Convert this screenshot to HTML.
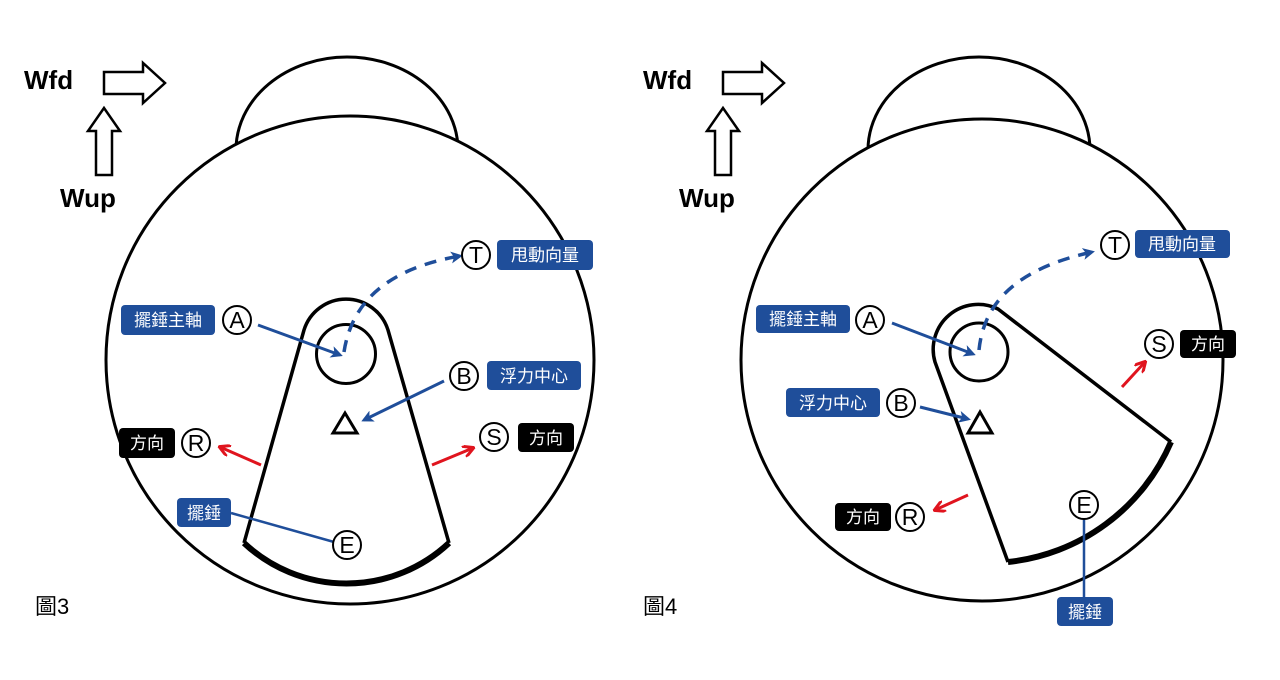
<!DOCTYPE html>
<html><head><meta charset="utf-8"><style>
html,body{margin:0;padding:0;background:#fff;}
svg{display:block;}
.lb{font-family:"Liberation Sans","Noto Sans CJK TC",sans-serif;font-size:17px;fill:#fff;}
.ci{font-family:"Liberation Sans",sans-serif;font-size:23px;fill:#000;}
.big{font-family:"Liberation Sans",sans-serif;font-size:26px;font-weight:bold;fill:#000;}
</style></head><body>
<svg width="1280" height="680" viewBox="0 0 1280 680" xmlns="http://www.w3.org/2000/svg">
<defs>
<marker id="ab" markerWidth="12" markerHeight="12" refX="9" refY="6" orient="auto" markerUnits="userSpaceOnUse"><path d="M0,0 L12,6 L0,12 L3,6 Z" fill="#1f4e9a"/></marker>
<marker id="ar" markerWidth="12" markerHeight="12" refX="10" refY="6" orient="auto" markerUnits="userSpaceOnUse"><path d="M0,0 L11,6 L0,12" fill="none" stroke="#e0141e" stroke-width="3"/></marker>
</defs>
<rect width="1280" height="680" fill="#fff"/>

<!-- ===== Figure 3 ===== -->
<text x="24" y="89" class="big">Wfd</text>
<polygon points="104,72 143,72 143,63 165,83 143,103 143,94 104,94" fill="#fff" stroke="#000" stroke-width="2.5"/>
<polygon points="104,108 120,131 112,131 112,175 96,175 96,131 88,131" fill="#fff" stroke="#000" stroke-width="2.5"/>
<text x="60" y="207" class="big">Wup</text>

<ellipse cx="347" cy="150" rx="111" ry="93" fill="#fff" stroke="#000" stroke-width="3"/>
<circle cx="350" cy="360" r="244" fill="#fff" stroke="#000" stroke-width="3"/>

<path d="M244,543 L304,330 A44,44 0 0 1 388,330 L449,543" fill="none" stroke="#000" stroke-width="3.5"/>
<path d="M244,543 A150,150 0 0 0 449,543" fill="none" stroke="#000" stroke-width="6"/>
<circle cx="346" cy="354" r="29.5" fill="none" stroke="#000" stroke-width="3"/>
<polygon points="333,433 357,433 345,413" fill="none" stroke="#000" stroke-width="3"/>

<path d="M344,352 C352,300 390,268 460,256" fill="none" stroke="#1f4e9a" stroke-width="3.5" stroke-dasharray="12,9" marker-end="url(#ab)"/>
<circle cx="476" cy="255" r="14" fill="#fff" stroke="#000" stroke-width="2"/><text x="476" y="263" class="ci" text-anchor="middle">T</text>
<rect x="497" y="240" width="96" height="30" rx="4" fill="#1f4e9a"/><text x="545" y="261" class="lb" text-anchor="middle">甩動向量</text>

<line x1="258" y1="325" x2="340" y2="355" stroke="#1f4e9a" stroke-width="3" marker-end="url(#ab)"/>
<circle cx="237" cy="320" r="14" fill="#fff" stroke="#000" stroke-width="2"/><text x="237" y="328" class="ci" text-anchor="middle">A</text>
<rect x="121" y="305" width="94" height="30" rx="4" fill="#1f4e9a"/><text x="168" y="326" class="lb" text-anchor="middle">擺錘主軸</text>

<line x1="444" y1="381" x2="364" y2="420" stroke="#1f4e9a" stroke-width="3" marker-end="url(#ab)"/>
<circle cx="464" cy="376" r="14" fill="#fff" stroke="#000" stroke-width="2"/><text x="464" y="384" class="ci" text-anchor="middle">B</text>
<rect x="487" y="361" width="94" height="29" rx="4" fill="#1f4e9a"/><text x="534" y="382" class="lb" text-anchor="middle">浮力中心</text>

<line x1="261" y1="465" x2="220" y2="447" stroke="#e0141e" stroke-width="3" marker-end="url(#ar)"/>
<circle cx="196" cy="443" r="14" fill="#fff" stroke="#000" stroke-width="2"/><text x="196" y="451" class="ci" text-anchor="middle">R</text>
<rect x="119" y="428" width="56" height="30" rx="4" fill="#000"/><text x="147" y="449" class="lb" text-anchor="middle">方向</text>

<line x1="432" y1="465" x2="473" y2="448" stroke="#e0141e" stroke-width="3" marker-end="url(#ar)"/>
<circle cx="494" cy="437" r="14" fill="#fff" stroke="#000" stroke-width="2"/><text x="494" y="445" class="ci" text-anchor="middle">S</text>
<rect x="518" y="423" width="56" height="29" rx="4" fill="#000"/><text x="546" y="444" class="lb" text-anchor="middle">方向</text>

<line x1="231" y1="513" x2="334" y2="542" stroke="#1f4e9a" stroke-width="2.5"/>
<circle cx="347" cy="545" r="14" fill="#fff" stroke="#000" stroke-width="2"/><text x="347" y="553" class="ci" text-anchor="middle">E</text>
<rect x="177" y="498" width="54" height="29" rx="4" fill="#1f4e9a"/><text x="204" y="519" class="lb" text-anchor="middle">擺錘</text>

<text x="35" y="614" font-family="Liberation Sans,Noto Sans CJK TC,sans-serif" font-size="22" fill="#000">圖3</text>

<!-- ===== Figure 4 ===== -->
<text x="643" y="89" class="big">Wfd</text>
<polygon points="723,72 762,72 762,63 784,83 762,103 762,94 723,94" fill="#fff" stroke="#000" stroke-width="2.5"/>
<polygon points="723,108 739,131 731,131 731,175 715,175 715,131 707,131" fill="#fff" stroke="#000" stroke-width="2.5"/>
<text x="679" y="207" class="big">Wup</text>

<ellipse cx="979" cy="150" rx="111" ry="93" fill="#fff" stroke="#000" stroke-width="3"/>
<circle cx="982" cy="360" r="241" fill="#fff" stroke="#000" stroke-width="3"/>

<path d="M1008,562 L935,362 A45,45 0 0 1 998,309 L1171,442" fill="none" stroke="#000" stroke-width="3.5"/>
<path d="M1171,442 A200,200 0 0 1 1008,562" fill="none" stroke="#000" stroke-width="6"/>
<circle cx="979" cy="352" r="29" fill="none" stroke="#000" stroke-width="3"/>
<polygon points="968,433 992,433 980,412" fill="#fff" stroke="#000" stroke-width="3"/>

<path d="M979,350 C984,300 1020,268 1092,252" fill="none" stroke="#1f4e9a" stroke-width="3.5" stroke-dasharray="12,9" marker-end="url(#ab)"/>
<circle cx="1115" cy="245" r="14" fill="#fff" stroke="#000" stroke-width="2"/><text x="1115" y="253" class="ci" text-anchor="middle">T</text>
<rect x="1135" y="230" width="95" height="28" rx="4" fill="#1f4e9a"/><text x="1182" y="250" class="lb" text-anchor="middle">甩動向量</text>

<line x1="892" y1="323" x2="973" y2="354" stroke="#1f4e9a" stroke-width="3" marker-end="url(#ab)"/>
<circle cx="870" cy="320" r="14" fill="#fff" stroke="#000" stroke-width="2"/><text x="870" y="328" class="ci" text-anchor="middle">A</text>
<rect x="756" y="305" width="94" height="28" rx="4" fill="#1f4e9a"/><text x="803" y="325" class="lb" text-anchor="middle">擺錘主軸</text>

<line x1="920" y1="407" x2="968" y2="419" stroke="#1f4e9a" stroke-width="3" marker-end="url(#ab)"/>
<circle cx="901" cy="403" r="14" fill="#fff" stroke="#000" stroke-width="2"/><text x="901" y="411" class="ci" text-anchor="middle">B</text>
<rect x="786" y="388" width="94" height="29" rx="4" fill="#1f4e9a"/><text x="833" y="409" class="lb" text-anchor="middle">浮力中心</text>

<line x1="1122" y1="387" x2="1145" y2="362" stroke="#e0141e" stroke-width="3" marker-end="url(#ar)"/>
<circle cx="1159" cy="344" r="14" fill="#fff" stroke="#000" stroke-width="2"/><text x="1159" y="352" class="ci" text-anchor="middle">S</text>
<rect x="1180" y="330" width="56" height="28" rx="4" fill="#000"/><text x="1208" y="350" class="lb" text-anchor="middle">方向</text>

<line x1="968" y1="495" x2="935" y2="510" stroke="#e0141e" stroke-width="3" marker-end="url(#ar)"/>
<circle cx="910" cy="517" r="14" fill="#fff" stroke="#000" stroke-width="2"/><text x="910" y="525" class="ci" text-anchor="middle">R</text>
<rect x="835" y="503" width="56" height="28" rx="4" fill="#000"/><text x="863" y="523" class="lb" text-anchor="middle">方向</text>

<line x1="1084" y1="518" x2="1084" y2="598" stroke="#1f4e9a" stroke-width="2.5"/>
<circle cx="1084" cy="505" r="14" fill="#fff" stroke="#000" stroke-width="2"/><text x="1084" y="513" class="ci" text-anchor="middle">E</text>
<rect x="1057" y="597" width="56" height="29" rx="4" fill="#1f4e9a"/><text x="1085" y="618" class="lb" text-anchor="middle">擺錘</text>

<text x="643" y="614" font-family="Liberation Sans,Noto Sans CJK TC,sans-serif" font-size="22" fill="#000">圖4</text>
</svg>
</body></html>
